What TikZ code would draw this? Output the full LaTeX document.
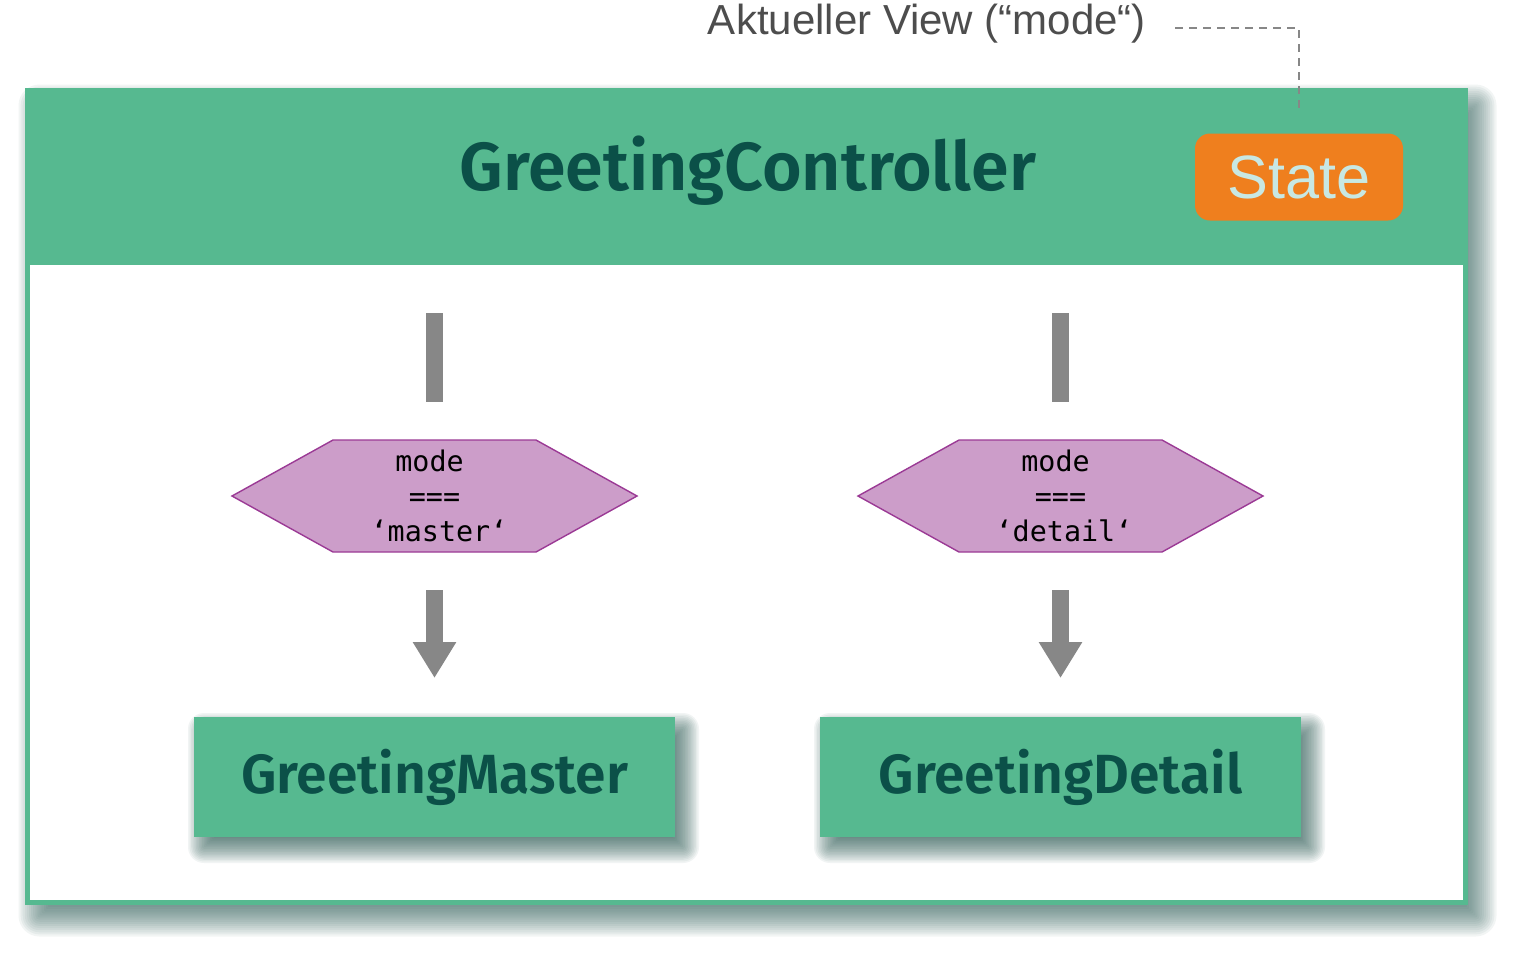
\documentclass[tikz,border=0pt]{standalone}
\usepackage{fontspec}
\setmainfont{Liberation Sans}
\newfontfamily\titlefont{Fira Sans}[UprightFont={* SemiBold}]
\newfontfamily\codefont{DejaVu Sans Mono}
\usetikzlibrary{arrows.meta,calc}
\pgfdeclarelayer{bg}
\pgfdeclarelayer{base}
\pgfdeclarelayer{mid}
\pgfsetlayers{bg,base,mid,main}
\definecolor{vgreen}{HTML}{56B990}
\definecolor{vdark}{HTML}{0B5048}
\definecolor{vorange}{HTML}{EF7F1E}
\definecolor{vstate}{HTML}{C8E8E3}
\definecolor{vbar}{HTML}{878787}
\definecolor{hexfill}{HTML}{CC9DC9}
\definecolor{hexline}{HTML}{9B3A95}
\definecolor{vlabel}{HTML}{4D4D4D}
\definecolor{vshadow}{HTML}{2A5A54}
% soft shadow behind a node: #1 layer, #2 node name, #3 x offset, #4 y offset, #5 blur radius (px)
\newcommand{\softshade}[5]{%
  \begin{pgfonlayer}{#1}
  \foreach \k in {0,...,19}{
    \pgfmathsetmacro{\e}{-#5+\k*2*#5/19}
    \pgfmathsetmacro{\rc}{max(\e,0)*0.5+0.5}
    \fill[vshadow,opacity=0.062,rounded corners=\rc pt]
      ($(#2.north west)+(#3-\e,#4-\e)$) rectangle ($(#2.south east)+(#3+\e,#4+\e)$);
  }
  \end{pgfonlayer}}
\begin{document}
\begin{tikzpicture}[x=0.5pt,y=-0.5pt,
  outerbox/.style={draw=vgreen,line width=2.5pt,fill=white,minimum width=719pt,minimum height=406pt,inner sep=0pt,outer sep=0pt},
  compbox/.style={fill=vgreen,minimum width=240.5pt,minimum height=60pt,inner sep=0pt,outer sep=0pt,
    font=\titlefont\fontsize{27.6}{32}\selectfont,text=vdark},
  statebox/.style={fill=vorange,rounded corners=7.5pt,minimum width=104pt,minimum height=43.5pt,inner sep=0pt,
    text=vstate,font=\fontsize{30.6}{35}\selectfont},
  condtext/.style={minimum width=202.5pt,minimum height=56pt,inner sep=0pt,align=center,
    font=\codefont\fontsize{14.2}{17.5}\selectfont},
  hexshape/.style={fill=hexfill,draw=hexline,line width=0.7pt,line join=miter},
  bar/.style={draw=vbar,line width=8.5pt},
  flow/.style={draw=vbar,line width=8.5pt,-{Triangle[width=20.5pt,length=18pt]}},
  leader/.style={draw=vbar,line width=0.6pt,dash pattern=on 4pt off 3pt}
]
\useasboundingbox (0,0) rectangle (1518,955);
% outer component
\begin{pgfonlayer}{base}
\node[outerbox] (ctrl) at (746.5,496.5) {};
\fill[vgreen] (25,88) rectangle (1468,265);
\end{pgfonlayer}
\softshade{bg}{ctrl}{11}{14}{20}
\node[font=\titlefont\fontsize{34}{38}\selectfont,text=vdark] (title) at (748,171) {GreetingController};
\node[statebox] (state) at (1299,177) {State};
% label
\node[font=\fontsize{21}{25}\selectfont,text=vlabel,inner sep=0pt] (lbl) at (927,24) {Aktueller View (“mode“)};
\coordinate (dstart) at (1175,28);
\draw[leader,shorten >=11.5pt] (dstart) -| (state.north);
% hexagon centres
\coordinate (cA) at (434.5,496);
\coordinate (cB) at (1060.5,496);
\foreach \c in {cA,cB}{
  \path[hexshape] ($(\c)+(-202.5,0)$) -- ($(\c)+(-101.5,-56)$) -- ($(\c)+(101.5,-56)$) -- ($(\c)+(202.5,0)$)
    -- ($(\c)+(101.5,56)$) -- ($(\c)+(-101.5,56)$) -- cycle;
}
% left column
\coordinate (topA) at (434.5,313);
\node[condtext] (condA) at (cA) {mode\hspace*{5pt}\\===\hspace*{4.5pt}\\\hspace*{4.5pt}‘master‘};
\node[compbox] (master) at (434.5,777) {GreetingMaster};
\softshade{mid}{master}{9}{11}{15}
% right column
\coordinate (topB) at (1060.5,313);
\node[condtext] (condB) at (cB) {mode\hspace*{5pt}\\===\hspace*{4.5pt}\\\hspace*{3.5pt}‘detail‘};
\node[compbox] (detail) at (1060.5,777) {GreetingDetail};
\softshade{mid}{detail}{9}{11}{15}
% connectors
\draw[bar,shorten >=19pt] (topA) -- (condA.north);
\draw[bar,shorten >=19pt] (topB) -- (condB.north);
\draw[flow,shorten <=19pt,shorten >=19.5pt] (condA.south) -- (master.north);
\draw[flow,shorten <=19pt,shorten >=19.5pt] (condB.south) -- (detail.north);
\end{tikzpicture}
\end{document}
